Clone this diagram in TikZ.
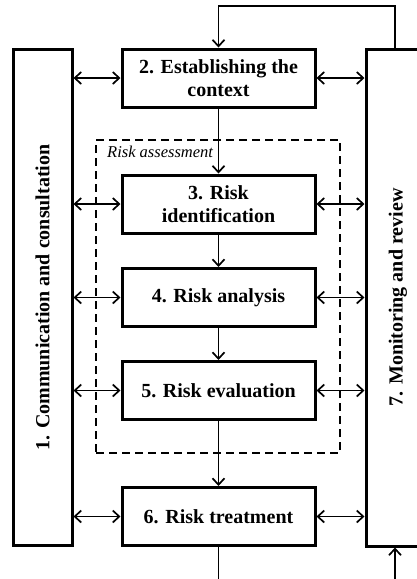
\documentclass[tikz,border=0pt]{standalone}
\usepackage{fontspec}
\setmainfont{Liberation Serif}
\usetikzlibrary{arrows.meta}
\begin{document}
\begin{tikzpicture}[x=1pt,y=-1pt,
  stepbox/.style={draw, line width=3pt, minimum width=193pt, minimum height=58pt,
    inner sep=2pt, align=center, font=\bfseries\fontsize{20}{23}\selectfont},
  sidebox/.style={draw, line width=3pt, inner sep=0pt,
    font=\bfseries\fontsize{20}{23}\selectfont},
  conn/.style={line width=1.7pt, -{Straight Barb[length=6.5pt,width=12pt,line width=1.7pt]}},
  biconn/.style={line width=1.7pt, {Straight Barb[length=6.5pt,width=12pt,line width=1.7pt]}-{Straight Barb[length=6.5pt,width=12pt,line width=1.7pt]}},
  assessbox/.style={draw, dash pattern=on 8pt off 5pt, line width=1.7pt,
    minimum width=244pt, minimum height=313pt, inner sep=0pt}]
\clip (0,0) rectangle (417,579);
\fill[white] (0,0) rectangle (417,579);

\node[assessbox] (assess) at (218,296.5) {};
\node[anchor=base west, inner sep=0pt, font=\itshape\fontsize{16.5}{19}\selectfont] (alabel) at (107,157) {Risk assessment};

\node[sidebox, minimum width=59pt, minimum height=496pt] (left) at (42.5,297.5)
  {\rotatebox{90}{1. Communication and consultation}};
\node[sidebox, minimum width=64pt, minimum height=497pt] (right) at (398,297.5)
  {\rotatebox{90}{7. Monitoring and review}};

\node[stepbox] (b2) at (218.5,78) {2. Establishing the\\context};
\node[stepbox] (b3) at (218.5,204) {3. Risk\\identification};
\node[stepbox] (b4) at (218.5,297.5) {4. Risk analysis};
\node[stepbox] (b5) at (218.5,390.5) {5. Risk evaluation};
\node[stepbox] (b6) at (218.5,516.5) {6. Risk treatment};

\draw[conn] (b2) -- (b3);
\draw[conn] (b3) -- (b4);
\draw[conn] (b4) -- (b5);
\draw[conn] (b5) -- (b6);

\foreach \b in {b2,b3,b4,b5,b6}{
  \draw[biconn] (left.east |- \b.west) -- (\b.west);
  \draw[biconn] (\b.east) -- (right.west |- \b.east);
}

\coordinate (looptopL) at (218.5,6);
\coordinate (looptopR) at (395,6);
\coordinate (botL) at (218.5,585);
\coordinate (botR) at (395,585);
\draw[conn, line width=1.5pt] (right.north -| looptopR) -- (looptopR) -- (looptopL) -- (b2.north);
\draw[line width=1.7pt] (b6.south) -- (botL);
\draw[conn] (botR) -- (right.south -| botR);
\end{tikzpicture}
\end{document}
